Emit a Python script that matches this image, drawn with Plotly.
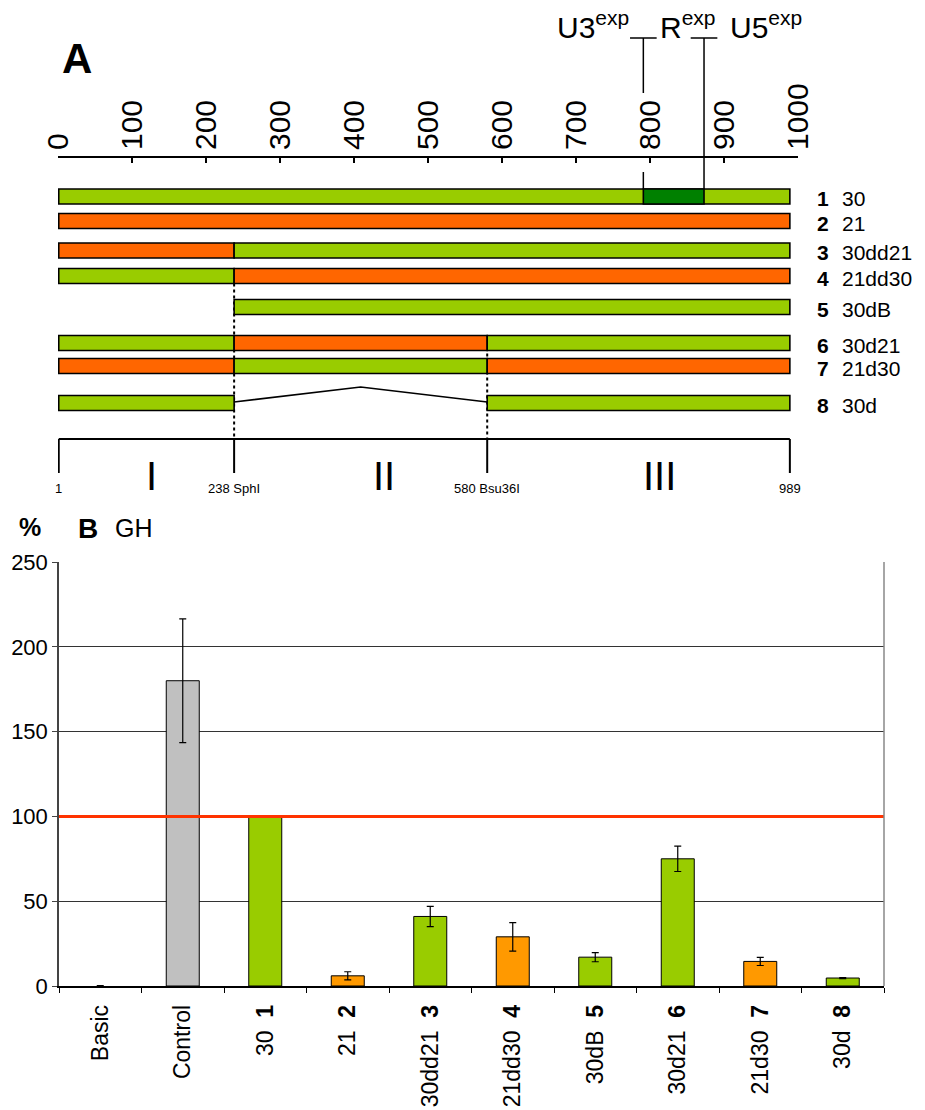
import plotly.graph_objects as go

W, H = 925, 1110
FONT = "Arial, Liberation Sans, sans-serif"

# ---------------- Panel B: GH expression ----------------
categories = ["Basic", "Control", "30", "21", "30dd21", "21dd30", "30dB", "30d21", "21d30", "30d"]
construct_numbers = ["", "", "1", "2", "3", "4", "5", "6", "7", "8"]
gh_percent = [0, 180, 100, 6, 41, 29, 17, 75, 14.5, 4.7]
gh_error = [0.3, 36.5, 0, 2.4, 6, 8.4, 2.7, 7.5, 2.4, 0.3]
bar_kind = ["none", "control", "30", "21", "30", "21", "30", "30", "21", "30"]
reference_level = 100
y_ticks = [0, 50, 100, 150, 200, 250]

# ---------------- Panel A: construct maps ----------------
constructs = ["30", "21", "30dd21", "21dd30", "30dB", "30d21", "21d30", "30d"]
seq_start, sph_site, bsu_site, seq_end = 1, 238, 580, 989
construct_segments = [
    [(1, 989, "30")],
    [(1, 989, "21")],
    [(1, 238, "21"), (238, 989, "30")],
    [(1, 238, "30"), (238, 989, "21")],
    [(238, 989, "30")],
    [(1, 238, "30"), (238, 580, "21"), (580, 989, "30")],
    [(1, 238, "21"), (238, 580, "30"), (580, 989, "21")],
    [(1, 238, "30"), (580, 989, "30")],
]
r_region = (791, 873)          # U3/R and R/U5 boundaries
deleted_construct = 7          # index of "30d" (region II removed)
scale_ticks = list(range(0, 1001, 100))
region_names = ["I", "II", "III"]
region_label_pos = [127, 440, 813]
site_labels = [(seq_start, "1"), (sph_site, "238 SphI"), (bsu_site, "580 Bsu36I"), (seq_end, "989")]

A_COLORS = {"30": "#99CC00", "21": "#FF6600", "R": "#008000"}
B_COLORS = {"30": "#99CC00", "21": "#FF9900", "control": "#C0C0C0", "none": "rgba(0,0,0,0)"}

# vertical layout of the map rows (page pixels, used as y2 units)
row_y = [196.5, 221, 250.5, 276, 307, 343, 366, 403]
half_h = 7.5
bracket_y, bracket_drop, site_label_y = 439, 473, 488


def px_x(p):
    return p / W


def px_y(p):
    return 1 - p / H


fig = go.Figure()

# ---- Panel B bars ----
fig.add_trace(go.Bar(
    x=categories, y=gh_percent, width=0.4,
    marker=dict(color=[B_COLORS[k] for k in bar_kind],
                line=dict(color="black", width=[0 if k == "none" else 1 for k in bar_kind])),
    error_y=dict(type="data", array=gh_error, color="black", thickness=1.2, width=3.5),
    xaxis="x", yaxis="y", showlegend=False, hoverinfo="skip",
))

shapes = []
annotations = []

# reference line at 100 %
shapes.append(dict(type="line", xref="x domain", yref="y", x0=0, x1=1,
                   y0=reference_level, y1=reference_level,
                   line=dict(color="#FF3300", width=3), layer="above"))
# right frame
shapes.append(dict(type="line", xref="x domain", yref="y domain", x0=1, x1=1, y0=0, y1=1,
                   line=dict(color="#888888", width=1.5)))

# ---- Panel A ----
# dotted guides at the restriction sites
shapes.append(dict(type="line", xref="x2", yref="y2", x0=sph_site, x1=sph_site,
                   y0=row_y[3] + half_h, y1=bracket_y,
                   line=dict(color="black", width=2, dash="dot"), layer="below"))
shapes.append(dict(type="line", xref="x2", yref="y2", x0=bsu_site, x1=bsu_site,
                   y0=row_y[5] - half_h, y1=bracket_y,
                   line=dict(color="black", width=2, dash="dot"), layer="below"))

for i, segs in enumerate(construct_segments):
    for (a, b, kind) in segs:
        shapes.append(dict(type="rect", xref="x2", yref="y2", x0=a, x1=b,
                           y0=row_y[i] - half_h, y1=row_y[i] + half_h,
                           fillcolor=A_COLORS[kind], line=dict(color="black", width=1.6)))
    annotations.append(dict(xref="paper", yref="y2", x=px_x(815), y=row_y[i] + 2,
                            text=f"<b>{i + 1}</b>", showarrow=False, xanchor="left",
                            font=dict(size=21, family=FONT, color="black")))
    annotations.append(dict(xref="paper", yref="y2", x=px_x(840), y=row_y[i] + 2,
                            text=constructs[i], showarrow=False, xanchor="left",
                            font=dict(size=21, family=FONT, color="black")))

# R region of construct 1
shapes.append(dict(type="rect", xref="x2", yref="y2", x0=r_region[0], x1=r_region[1],
                   y0=row_y[0] - half_h, y1=row_y[0] + half_h,
                   fillcolor=A_COLORS["R"], line=dict(color="black", width=1.6)))

# deletion line for 30d
mid = (sph_site + bsu_site) / 2
shapes.append(dict(type="path", xref="x2", yref="y2",
                   path=f"M {sph_site},{row_y[deleted_construct] - 1} L {mid},{row_y[deleted_construct] - 16} "
                        f"L {bsu_site},{row_y[deleted_construct] - 1}",
                   line=dict(color="black", width=1.6)))

# U3 / R / U5 boundary markers
cap = 18
marker_top = 38
for x0, pieces in [(r_region[0], [(marker_top, 93), (172, row_y[0] - half_h)]),
                   (r_region[1], [(marker_top, row_y[0] - half_h)])]:
    for (ya, yb) in pieces:
        shapes.append(dict(type="line", xref="x2", yref="y2", x0=x0, x1=x0, y0=ya, y1=yb,
                           line=dict(color="black", width=1.5)))
    shapes.append(dict(type="line", xref="x2", yref="y2", x0=x0 - cap, x1=x0 + cap,
                       y0=marker_top, y1=marker_top, line=dict(color="black", width=1.5)))

for txt, xpos, anchor in [("U3<sup>exp</sup>", 774, "right"),
                          ("R<sup>exp</sup>", 852, "center"),
                          ("U5<sup>exp</sup>", 906, "left")]:
    annotations.append(dict(xref="x2", yref="y2", x=xpos, y=25, text=txt, showarrow=False,
                            xanchor=anchor, yanchor="middle",
                            font=dict(size=30, family=FONT, color="black")))

# bottom bracket with restriction sites
shapes.append(dict(type="line", xref="x2", yref="y2", x0=seq_start, x1=seq_end,
                   y0=bracket_y, y1=bracket_y, line=dict(color="black", width=2)))
for pos, label in site_labels:
    shapes.append(dict(type="line", xref="x2", yref="y2", x0=pos, x1=pos,
                       y0=bracket_y, y1=bracket_drop, line=dict(color="black", width=2)))
    annotations.append(dict(xref="x2", yref="y2", x=pos, y=site_label_y, text=label,
                            showarrow=False, xanchor="center", yanchor="middle",
                            font=dict(size=13, family=FONT, color="black")))
for name, pos in zip(region_names, region_label_pos):
    annotations.append(dict(xref="x2", yref="y2", x=pos, y=476, text=name, showarrow=False,
                            xanchor="center", yanchor="middle",
                            font=dict(size=40, family=FONT, color="black")))

# panel letters and titles
annotations.append(dict(xref="paper", yref="paper", x=px_x(60), y=px_y(58), text="<b>A</b>",
                        showarrow=False, xanchor="left", yanchor="middle",
                        font=dict(size=42, family=FONT, color="black")))
annotations.append(dict(xref="paper", yref="paper", x=px_x(17), y=px_y(527), text="<b>%</b>",
                        showarrow=False, xanchor="left", yanchor="middle",
                        font=dict(size=25, family=FONT, color="black")))
annotations.append(dict(xref="paper", yref="paper", x=px_x(76), y=px_y(528), text="<b>B</b>",
                        showarrow=False, xanchor="left", yanchor="middle",
                        font=dict(size=28, family=FONT, color="black")))
annotations.append(dict(xref="paper", yref="paper", x=px_x(113), y=px_y(528), text="GH",
                        showarrow=False, xanchor="left", yanchor="middle",
                        font=dict(size=25, family=FONT, color="black")))

tick_text = [f"{c}\u00a0 <b>{n}</b>" if n else c for c, n in zip(categories, construct_numbers)]

fig.update_layout(
    width=W, height=H, margin=dict(l=0, r=0, t=0, b=0),
    paper_bgcolor="white", plot_bgcolor="rgba(0,0,0,0)",
    font=dict(family=FONT, color="black"),
    bargap=0.6,
    shapes=shapes, annotations=annotations,
    xaxis=dict(domain=[px_x(59), px_x(884)], anchor="y", type="category",
               tickvals=categories, ticktext=tick_text, tickangle=-90,
               tickfont=dict(size=23, family=FONT, color="black"),
               ticklabelstandoff=8,
               showline=True, linecolor="black", linewidth=1.5,
               ticks="outside", tickson="boundaries", ticklen=5, tickcolor="black",
               showgrid=False, automargin=False, fixedrange=True),
    yaxis=dict(domain=[px_y(986), px_y(562)], anchor="x", range=[0, 250],
               tickvals=y_ticks, tickfont=dict(size=22, family=FONT, color="black"),
               showline=True, linecolor="#444444", linewidth=1.5,
               ticks="outside", ticklen=5, tickcolor="#444444",
               showgrid=True, gridcolor="#333333", gridwidth=1,
               zeroline=False, automargin=False, fixedrange=True),
    xaxis2=dict(domain=[px_x(58), px_x(798)], anchor="free", position=px_y(157), side="top",
                range=[0, 1000], tickvals=scale_ticks, tickangle=-90,
                tickfont=dict(size=30, family=FONT, color="black"),
                showline=True, linecolor="black", linewidth=2,
                ticks="inside", ticklen=5, tickcolor="black", tickwidth=2,
                showgrid=False, zeroline=False, automargin=False, fixedrange=True),
    yaxis2=dict(domain=[px_y(500), 1], anchor="x2", range=[500, 0],
                visible=False, showgrid=False, zeroline=False, fixedrange=True),
)

fig.write_html("out.html")
